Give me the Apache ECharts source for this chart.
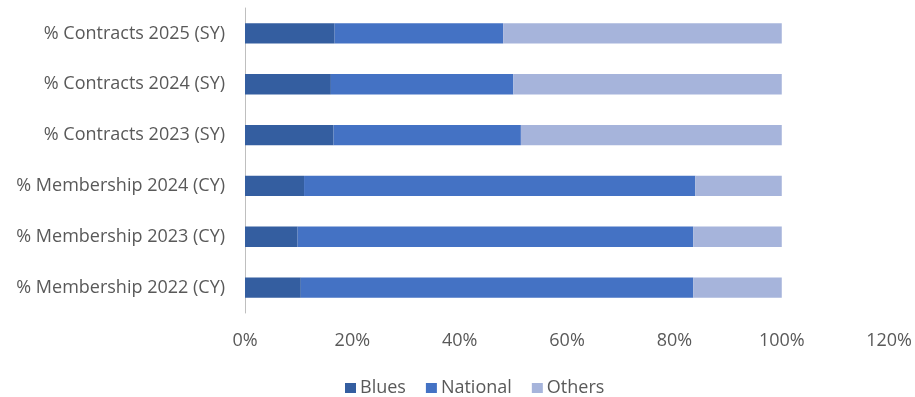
<!DOCTYPE html>
<html>
<head>
<meta charset="utf-8">
<script src="https://cdn.jsdelivr.net/npm/echarts@6/dist/echarts.min.js"></script>
<style>
  html, body { margin: 0; padding: 0; background: #fff; }
  #chart { width: 915px; height: 397px; }
</style>
</head>
<body>
<div id="chart"></div>
<script>
// bottom-to-top order (category axis starts at the bottom)
const categories = [
  '% Membership 2022 (CY)',
  '% Membership 2023 (CY)',
  '% Membership 2024 (CY)',
  '% Contracts 2023 (SY)',
  '% Contracts 2024 (SY)',
  '% Contracts 2025 (SY)',
];
const blues = [10.4, 9.8, 11.0, 16.5, 16.0, 16.7];
const national = [73.1, 73.7, 72.9, 34.9, 34.0, 31.4];
const others = [16.5, 16.5, 16.1, 48.6, 50.0, 51.9];
const seriesNames = ['Blues', 'National', 'Others'];

const colors = ['#345ea0', '#4472c4', '#a6b4db'];
const textColor = '#595959';
const fontFamily = 'Open Sans, Liberation Sans, sans-serif';

const chart = echarts.init(document.getElementById('chart'));

const barCommon = {
  type: 'bar',
  stack: 'total',
  barWidth: '40%',
  silent: true,
};

chart.setOption({
  animation: false,
  color: colors,
  textStyle: { fontFamily },
  grid: { left: 245, right: 24, top: 8, bottom: 84, containLabel: false },
  legend: {
    left: 340,
    top: 374,
    itemWidth: 11,
    itemHeight: 10,
    itemGap: 20,
    icon: 'rect',
    textStyle: { color: textColor, fontSize: 18, fontFamily, padding: [0, 0, 0, -1] },
    data: seriesNames,
  },
  xAxis: {
    type: 'value',
    min: 0,
    max: 120,
    interval: 20,
    axisLine: { show: false },
    axisTick: { show: false },
    splitLine: { show: false },
    axisLabel: {
      color: textColor,
      fontSize: 18,
      margin: 19,
      formatter: v => v + '%',
    },
  },
  yAxis: {
    type: 'category',
    data: categories,
    axisLine: { show: true, lineStyle: { color: '#bfbfbf', width: 1 } },
    axisTick: { show: false },
    axisLabel: { color: textColor, fontSize: 18, margin: 20 },
  },
  series: [
    { ...barCommon, name: seriesNames[0], data: blues },
    { ...barCommon, name: seriesNames[1], data: national },
    { ...barCommon, name: seriesNames[2], data: others },
  ],
});
</script>
</body>
</html>
